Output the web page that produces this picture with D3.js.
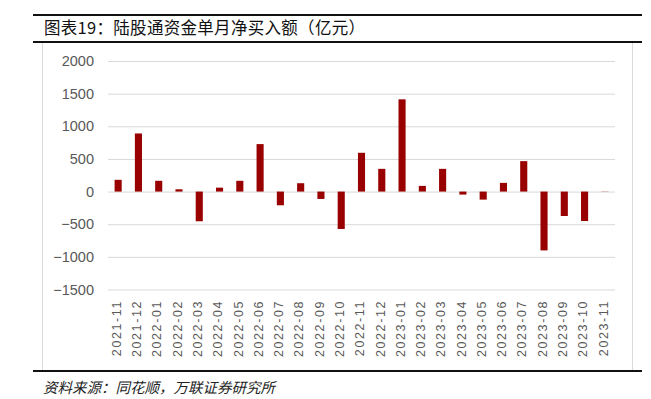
<!DOCTYPE html>
<html>
<head>
<meta charset="utf-8">
<script src="https://cdn.jsdelivr.net/npm/d3@7"></script>
<style>
  body { margin: 0; background: #fff; }
  svg { display: block; }
</style>
</head>
<body>
<div id="chart"></div>
<script>
// monthly net buying through the northbound connect, 100m yuan
const months = ["2021-11", "2021-12", "2022-01", "2022-02", "2022-03", "2022-04", "2022-05",
  "2022-06", "2022-07", "2022-08", "2022-09", "2022-10", "2022-11", "2022-12", "2023-01",
  "2023-02", "2023-03", "2023-04", "2023-05", "2023-06", "2023-07", "2023-08", "2023-09",
  "2023-10", "2023-11"];
const netBuy = [180, 890, 165, 35, -455, 60, 165, 727, -210, 128, -113, -573, 594, 348, 1413,
  87, 348, -46, -123, 133, 466, -901, -374, -451, -3];
const yTicks = [-1500, -1000, -500, 0, 500, 1000, 1500, 2000];

const title = "图表19：陆股通资金单月净买入额（亿元）";
const source = "资料来源：同花顺，万联证券研究所";

const W = 651, H = 399;
const plot = { left: 108, right: 615, top: 61, bottom: 289.5 };

const svg = d3.select("#chart").append("svg")
  .attr("width", W)
  .attr("height", H);

// light frame round the chart body
svg.append("rect")
  .attr("x", 42.5).attr("y", 42)
  .attr("width", 590).attr("height", 329)
  .attr("fill", "none")
  .attr("stroke", "#d9d9d9");

// heavy rules: above and below the title, and above the source note
[15, 42, 371].forEach(y => {
  svg.append("line")
    .attr("x1", 33).attr("x2", 642)
    .attr("y1", y).attr("y2", y)
    .attr("stroke", "#111")
    .attr("stroke-width", 2);
});

svg.append("text")
  .attr("x", 44).attr("y", 34)
  .attr("font-family", "'Noto Sans CJK SC', sans-serif")
  .attr("font-size", "16.5px")
  .attr("letter-spacing", "0.3px")
  .attr("fill", "#111")
  .text(title);

svg.append("text")
  .attr("x", 43).attr("y", 393)
  .attr("font-family", "'Noto Sans CJK SC', sans-serif")
  .attr("font-size", "14.5px")
  .attr("font-style", "italic")
  .attr("fill", "#222")
  .text(source);

const x = d3.scaleBand()
  .domain(months)
  .range([plot.left, plot.right])
  .paddingInner(0.65)
  .paddingOuter(0.325);

const y = d3.scaleLinear()
  .domain([-1500, 2000])
  .range([plot.bottom, plot.top]);

// y axis with gridlines
const yAxis = d3.axisLeft(y)
  .tickValues(yTicks)
  .tickSize(-(plot.right - plot.left))
  .tickPadding(14)
  .tickFormat(d3.format("d"));

const gy = svg.append("g")
  .attr("transform", "translate(" + plot.left + ",0)")
  .call(yAxis);
gy.select(".domain").remove();
gy.selectAll(".tick line").attr("stroke", "#d9d9d9");
gy.selectAll(".tick text")
  .attr("fill", "#595959")
  .attr("font-family", "'Liberation Sans', Arial, sans-serif")
  .attr("font-size", "14.5px");

// bars
svg.append("g")
  .selectAll("rect")
  .data(netBuy)
  .enter()
  .append("rect")
  .attr("x", (d, i) => x(months[i]))
  .attr("width", x.bandwidth())
  .attr("y", d => y(Math.max(0, d)))
  .attr("height", d => Math.abs(y(d) - y(0)))
  .attr("fill", "#990000");

// x axis, labels turned upright
const xAxis = d3.axisBottom(x).tickSize(0);
const gx = svg.append("g")
  .attr("transform", "translate(-1,300)")
  .call(xAxis);
gx.select(".domain").remove();
gx.selectAll(".tick text")
  .attr("x", 0)
  .attr("y", 0)
  .attr("dy", "0.3em")
  .attr("transform", "rotate(-90)")
  .attr("text-anchor", "end")
  .attr("fill", "#595959")
  .attr("font-family", "'Liberation Sans', Arial, sans-serif")
  .attr("font-size", "12.5px")
  .attr("letter-spacing", "1.6px");
</script>
</body>
</html>
